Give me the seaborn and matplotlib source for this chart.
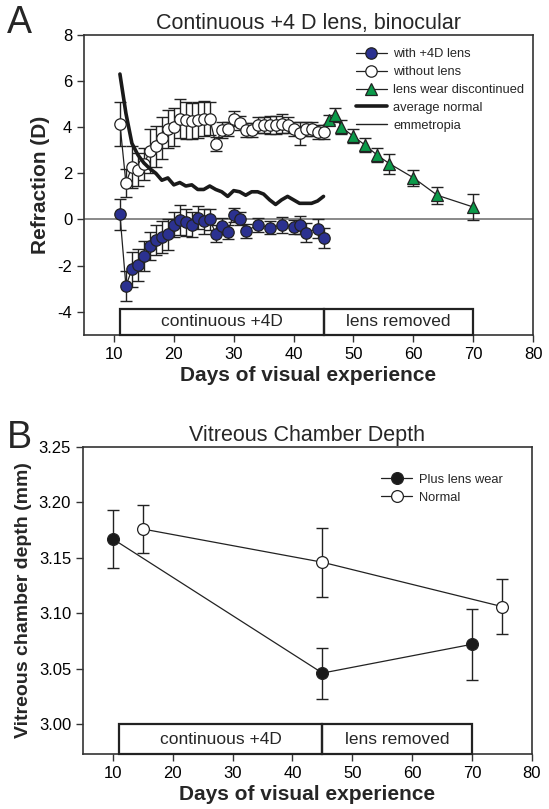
import matplotlib
matplotlib.use("Agg")
import matplotlib.pyplot as plt
import seaborn as sns
import pandas as pd
from matplotlib.patches import Rectangle
from matplotlib.lines import Line2D

# ---------------- Panel A data ----------------
lens_days = [11, 12, 13, 14, 15, 16, 17, 18, 19, 20, 21, 22, 23, 24, 25, 26, 27, 28, 29, 30,
             31, 32, 34, 36, 38, 40, 41, 42, 44, 45]
lens_refr = [0.22, -2.88, -2.16, -1.98, -1.58, -1.16, -0.90, -0.76, -0.65, -0.22, -0.03, -0.13,
             -0.22, 0.07, -0.08, 0.00, -0.61, -0.28, -0.54, 0.21, 0.04, -0.50, -0.25, -0.35,
             -0.25, -0.32, -0.25, -0.57, -0.40, -0.80]
lens_err = [0.67, 0.65, 0.75, 0.70, 0.65, 0.60, 0.65, 0.70, 0.65, 0.55, 0.65, 0.60, 0.55, 0.50,
            0.55, 0.45, 0.35, 0.35, 0.30, 0.30, 0.30, 0.30, 0.30, 0.30, 0.35, 0.30, 0.40, 0.40,
            0.40, 0.42]

nolens_days = [11, 12, 13, 14, 15, 16, 17, 18, 19, 20, 21, 22, 23, 24, 25, 26, 27, 28, 29, 30,
               31, 32, 33, 34, 35, 36, 37, 38, 39, 40, 41, 42, 43, 44, 45]
nolens_refr = [4.15, 1.58, 2.27, 2.16, 2.39, 2.97, 3.17, 3.54, 3.93, 4.00, 4.37, 4.30, 4.27, 4.30,
               4.37, 4.37, 3.28, 3.86, 3.93, 4.37, 4.18, 3.86, 3.86, 4.08, 4.08, 4.10, 4.10, 4.15,
               4.10, 3.93, 3.74, 3.93, 3.93, 3.79, 3.79]
nolens_err = [0.96, 0.60, 0.90, 0.70, 0.70, 0.94, 0.90, 0.90, 0.82, 0.82, 0.85, 0.80, 0.78, 0.78,
              0.75, 0.70, 0.30, 0.35, 0.30, 0.33, 0.30, 0.30, 0.30, 0.35, 0.35, 0.40, 0.40, 0.40,
              0.35, 0.30, 0.50, 0.30, 0.30, 0.30, 0.30]

disc_days = [46, 47, 48, 50, 52, 54, 56, 60, 64, 70]
disc_refr = [4.32, 4.51, 4.00, 3.60, 3.21, 2.78, 2.42, 1.81, 1.05, 0.54]
disc_err = [0.20, 0.30, 0.30, 0.30, 0.30, 0.30, 0.43, 0.35, 0.37, 0.55]

normal_days = [11, 12, 13, 14, 15, 16, 17, 18, 19, 20, 21, 22, 23, 24, 25, 26, 27, 28, 29, 30,
               31, 32, 33, 34, 35, 36, 37, 38, 39, 40, 41, 42, 43, 44, 45]
normal_refr = [6.30, 4.60, 3.30, 2.80, 2.45, 2.20, 2.00, 1.70, 1.80, 1.50, 1.60, 1.45, 1.50, 1.30,
               1.30, 1.45, 1.30, 1.20, 1.00, 1.25, 1.20, 1.05, 1.20, 1.20, 1.10, 0.85, 0.65, 0.85,
               1.00, 0.85, 0.70, 0.70, 0.70, 0.80, 1.00]

phase_labels = ["continuous +4D", "lens removed"]
phase_edges = [11, 45, 70]

# ---------------- Panel B data ----------------
plus_days = [10, 45, 70]
plus_vcd = [3.167, 3.046, 3.072]
plus_err = [0.026, 0.023, 0.032]
norm_days = [15, 45, 75]
norm_vcd = [3.176, 3.146, 3.106]
norm_err = [0.022, 0.031, 0.025]

# ---------------- style ----------------
sns.set_style("ticks")
plt.rcParams['font.family'] = ['Liberation Sans', 'DejaVu Sans']
plt.rcParams['axes.unicode_minus'] = False
plt.rcParams['axes.edgecolor'] = '#333333'
plt.rcParams['axes.linewidth'] = 1.2
plt.rcParams['xtick.color'] = '#333333'
plt.rcParams['ytick.color'] = '#333333'
plt.rcParams['xtick.labelcolor'] = 'black'
plt.rcParams['ytick.labelcolor'] = 'black'

BLUE = '#2b3190'
GREEN = '#0b9a4a'
TICK_FS = 12
LAB_FS = 15
TITLE_FS = 15.5
BOX_FS = 12.5

fig = plt.figure(figsize=(5.49, 8.09), dpi=100)
axA = fig.add_axes([0.153, 0.586, 0.818, 0.371])
axB = fig.add_axes([0.151, 0.068, 0.818, 0.3795])

cap = 4.2

def series(ax, days, vals, errs, marker, face, label, ms_=8, lw=0.9):
    df = pd.DataFrame({"day": days, "val": vals})
    ax.errorbar(days, vals, yerr=errs, fmt='none', ecolor='#222222', elinewidth=1.0,
                capsize=cap, capthick=1.0, zorder=2)
    sns.lineplot(data=df, x="day", y="val", ax=ax, color='#222222', lw=lw, marker=marker,
                 markersize=ms_, markerfacecolor=face, markeredgecolor='#222222',
                 markeredgewidth=0.9, label=label, zorder=3, errorbar=None, sort=False)

# ---- Panel A ----
axA.axhline(0, color='#808080', lw=1.3, zorder=1)
series(axA, lens_days, lens_refr, lens_err, 'o', BLUE, 'with +4D lens', ms_=8.2)
series(axA, nolens_days, nolens_refr, nolens_err, 'o', 'white', 'without lens', ms_=8.2)
series(axA, disc_days, disc_refr, disc_err, '^', GREEN, 'lens wear discontinued', ms_=8.5)
sns.lineplot(x=normal_days, y=normal_refr, ax=axA, color='#1a1a1a', lw=2.6,
             label='average normal', zorder=4, errorbar=None)

axA.set_xlim(5, 80)
axA.set_ylim(-5, 8)
axA.set_xticks(range(10, 81, 10))
axA.set_yticks(range(-4, 9, 2))

for lab, x0, x1 in zip(phase_labels, phase_edges[:-1], phase_edges[1:]):
    axA.add_patch(Rectangle((x0, -5), x1 - x0, 1.12, fill=False, ec='#222222', lw=1.6,
                            zorder=5, clip_on=False))
    axA.text((x0 + x1) / 2, -5 + 0.56, lab, ha='center', va='center', fontsize=BOX_FS)

h, l = axA.get_legend_handles_labels()
hd = dict(zip(l, h))
hd['emmetropia'] = Line2D([], [], color='#222222', lw=1.0)
order = ['with +4D lens', 'without lens', 'lens wear discontinued', 'average normal', 'emmetropia']
axA.legend([hd[k] for k in order], order, loc='upper right', bbox_to_anchor=(1.0, 0.985),
           frameon=False, fontsize=9.3, handlelength=2.4, handletextpad=0.5,
           labelspacing=0.45, borderaxespad=0.3)
axA.set_title('Continuous +4 D lens, binocular', fontsize=TITLE_FS, pad=4)
axA.set_xlabel('Days of visual experience', fontsize=LAB_FS, fontweight='bold', labelpad=3)
axA.set_ylabel('Refraction (D)', fontsize=LAB_FS, fontweight='bold', labelpad=5)

# ---- Panel B ----
series(axB, plus_days, plus_vcd, plus_err, 'o', '#1a1a1a', 'Plus lens wear', ms_=8.5)
series(axB, norm_days, norm_vcd, norm_err, 'o', 'white', 'Normal', ms_=8.5)
axB.set_xlim(5, 80)
axB.set_ylim(2.973, 3.25)
axB.set_xticks(range(10, 81, 10))
yt = [3.00, 3.05, 3.10, 3.15, 3.20, 3.25]
axB.set_yticks(yt)
axB.set_yticklabels([f"{v:.2f}" for v in yt])
for lab, x0, x1 in zip(phase_labels, phase_edges[:-1], phase_edges[1:]):
    axB.add_patch(Rectangle((x0, 2.973), x1 - x0, 0.027, fill=False, ec='#222222', lw=1.6,
                            zorder=5, clip_on=False))
    axB.text((x0 + x1) / 2, 2.973 + 0.0135, lab, ha='center', va='center', fontsize=BOX_FS)
axB.legend(loc='upper right', bbox_to_anchor=(0.96, 0.95), frameon=False, fontsize=9.3,
           handlelength=2.4, handletextpad=0.5, labelspacing=0.45)
axB.set_title('Vitreous Chamber Depth', fontsize=TITLE_FS, pad=4)
axB.set_xlabel('Days of visual experience', fontsize=LAB_FS, fontweight='bold', labelpad=3)
axB.set_ylabel('Vitreous chamber depth (mm)', fontsize=14, fontweight='bold', labelpad=5)

for ax in (axA, axB):
    for s in ax.spines.values():
        s.set_visible(True)
    ax.tick_params(axis='both', labelsize=TICK_FS, direction='out', length=5, width=1.0,
                   top=False, right=False)

fig.text(0.012, 0.972, 'A', fontsize=27, ha='left', va='center')
fig.text(0.012, 0.458, 'B', fontsize=27, ha='left', va='center')

fig.savefig('out.png', dpi=100)
